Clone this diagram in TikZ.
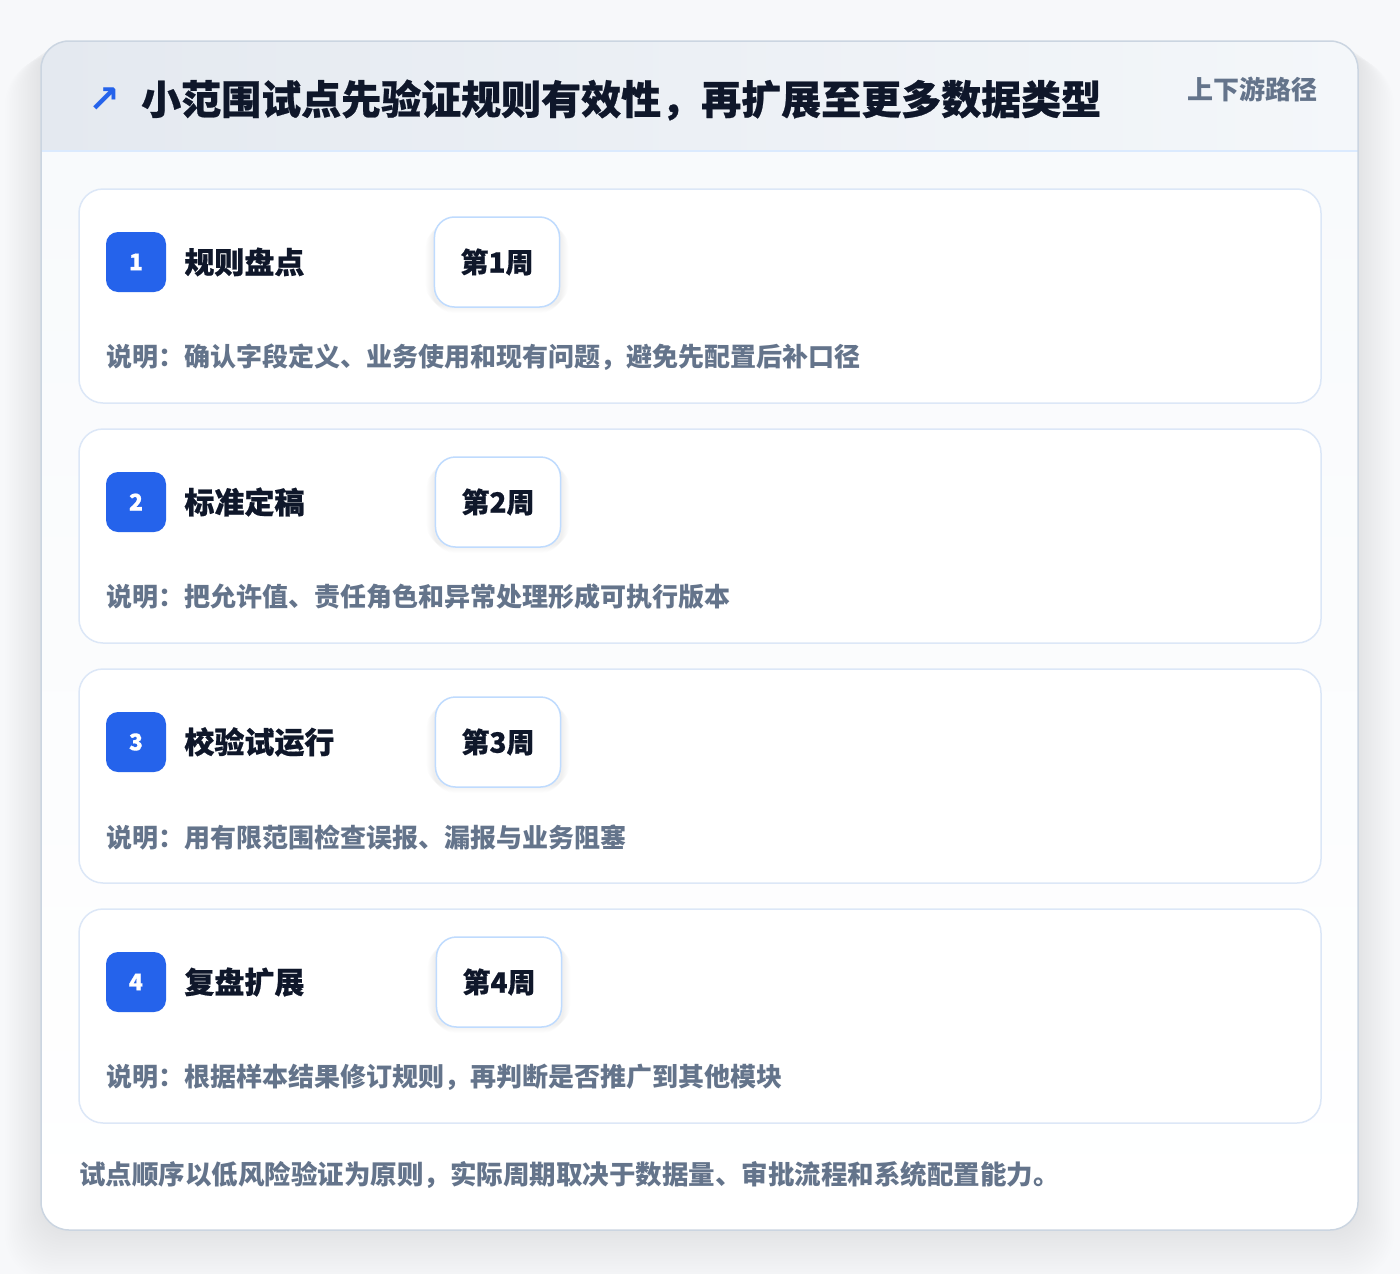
\documentclass[tikz,border=0pt]{standalone}
\usepackage{fontspec}
\setmainfont{Noto Sans CJK SC}
\newfontfamily\heavyfont{Noto Sans CJK SC}[UprightFeatures={FakeBold=0.6}, BoldFeatures={FakeBold=0.6}]
\newfontfamily\symfont{DejaVu Sans}
\usetikzlibrary{positioning}

% Colours
\definecolor{pagebg}{HTML}{F7F8FA}
\definecolor{frameline}{HTML}{CBD5E1}
\definecolor{headL}{HTML}{E4E9F0}
\definecolor{headR}{HTML}{F4F7FA}
\definecolor{headline}{HTML}{DBEAFE}
\definecolor{bodybg}{HTML}{F8FAFC}
\definecolor{stepline}{HTML}{DCE7F7}
\definecolor{pillline}{HTML}{BFDBFE}
\definecolor{accent}{HTML}{2563EB}
\definecolor{ink}{HTML}{0F172A}
\definecolor{muted}{HTML}{64748B}

\tikzset{
  stepcard/.style={draw=stepline, line width=1.5pt, fill=white, rounded corners=24pt,
    minimum width=1242pt, minimum height=214pt, inner sep=0pt},
  numbadge/.style={fill=accent, rounded corners=12pt, minimum width=60pt, minimum height=60pt,
    inner sep=0pt, text=white, font=\heavyfont\fontsize{23}{23}\selectfont\bfseries},
  steptitle/.style={anchor=west, inner sep=0pt, text=ink, font=\heavyfont\fontsize{30}{30}\selectfont\bfseries},
  weekpill/.style={draw=pillline, line width=1.5pt, fill=white, rounded corners=20pt,
    minimum height=90pt, inner xsep=26pt, text=ink, font=\heavyfont\fontsize{28}{28}\selectfont\bfseries},
  notetext/.style={anchor=west, inner sep=0pt, text=muted, font=\fontsize{26}{26}\selectfont\bfseries}
}

% Soft shadow under a pill: #1 = node name
\newcommand{\pillshadow}[1]{%
  \foreach \k in {1,...,8}
    \fill[black, opacity=0.007, rounded corners=20pt]
      ([xshift=-\k pt, yshift=-6pt+\k pt]#1.south west) rectangle ([xshift=\k pt, yshift=-2pt-\k pt]#1.north east);
}

\begin{document}
\begin{tikzpicture}[x=1pt, y=-1pt]

% Page
\useasboundingbox (0,0) rectangle (1400,1274);
\fill[pagebg] (0,0) rectangle (1400,1274);

% Outer panel with its soft shadow
\foreach \k in {1,...,20}
  \fill[black, opacity=0.0035, rounded corners=28pt+\k pt]
    (41-1.8*\k, 41+0.8*\k) rectangle (1358+1.8*\k, 1230+2.6*\k);
\fill[white, rounded corners=28pt] (41,41) rectangle (1358,1230);
\begin{scope}
  \clip[rounded corners=28pt] (41,41) rectangle (1358,1230);
  \shade[left color=headL, right color=headR] (41,41) rectangle (1358,151);
  \shade[top color=bodybg, bottom color=white] (41,151) rectangle (1358,1230);
  \draw[headline, line width=1.5pt] (41,151) -- (1358,151);
\end{scope}
\draw[frameline, line width=1.5pt, rounded corners=28pt] (41,41) rectangle (1358,1230);

% Header
\node[anchor=west, inner sep=0pt, text=ink, font=\heavyfont\fontsize{40}{40}\selectfont\bfseries]
  (headtitle) at (141,100) {小范围试点先验证规则有效性，再扩展至更多数据类型};
\node[inner sep=0pt, text=accent, font=\symfont\fontsize{38}{38}\selectfont\bfseries,
  left=20pt of headtitle] (headicon) {↗};
\node[anchor=east, inner sep=0pt, text=muted, font=\fontsize{26}{26}\selectfont\bfseries]
  (headtag) at (1318,89) {上下游路径};

% Step 1
\node[stepcard] (card1) at (700,296) {};
\node[numbadge] (num1) at (136,262) {1};
\node[steptitle, right=18pt of num1] (title1) {规则盘点};
\path (497,262) node[weekpill, draw=none, fill=none, text=white] (week1) {第1周};
\pillshadow{week1}
\node[weekpill] at (week1) {第1周};
\node[notetext] (note1) at (106,357) {说明：确认字段定义、业务使用和现有问题，避免先配置后补口径};

% Step 2
\node[stepcard] (card2) at (700,536) {};
\node[numbadge] (num2) at (136,502) {2};
\node[steptitle, right=18pt of num2] (title2) {标准定稿};
\path (498,502) node[weekpill, draw=none, fill=none, text=white] (week2) {第2周};
\pillshadow{week2}
\node[weekpill] at (week2) {第2周};
\node[notetext] (note2) at (106,597) {说明：把允许值、责任角色和异常处理形成可执行版本};

% Step 3
\node[stepcard] (card3) at (700,776) {};
\node[numbadge] (num3) at (136,742) {3};
\node[steptitle, right=18pt of num3] (title3) {校验试运行};
\path (498,742) node[weekpill, draw=none, fill=none, text=white] (week3) {第3周};
\pillshadow{week3}
\node[weekpill] at (week3) {第3周};
\node[notetext] (note3) at (106,837) {说明：用有限范围检查误报、漏报与业务阻塞};

% Step 4
\node[stepcard] (card4) at (700,1016) {};
\node[numbadge] (num4) at (136,982) {4};
\node[steptitle, right=18pt of num4] (title4) {复盘扩展};
\path (499,982) node[weekpill, draw=none, fill=none, text=white] (week4) {第4周};
\pillshadow{week4}
\node[weekpill] at (week4) {第4周};
\node[notetext] (note4) at (106,1077) {说明：根据样本结果修订规则，再判断是否推广到其他模块};

% Footer
\node[notetext, font=\fontsize{26.5}{26.5}\selectfont\bfseries]
  (footnote) at (79,1175) {试点顺序以低风险验证为原则，实际周期取决于数据量、审批流程和系统配置能力。};

\end{tikzpicture}
\end{document}
